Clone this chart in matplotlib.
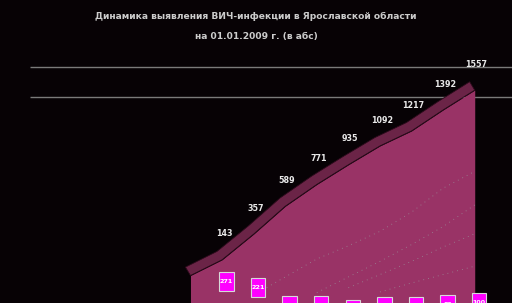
import matplotlib.pyplot as plt
import numpy as np

# data
years = [1999, 2000, 2001, 2002, 2003, 2004, 2005, 2006, 2007, 2008]
cumulative = [12, 143, 357, 589, 771, 935, 1092, 1217, 1392, 1557]
label_years = years[1:]
annual = [271, 221, 75, 70, 40, 60, 65, 80, 100]

# faint dotted contour series inside the area
line_a = [np.nan, np.nan, -150, 0, 150, 260, 380, 540, 740, 880]
line_b = [np.nan, np.nan, np.nan, np.nan, -130, 0, 130, 270, 420, 600]
line_c = [np.nan, np.nan, np.nan, np.nan, np.nan, -90, 20, 130, 250, 360]
line_d = [np.nan, np.nan, np.nan, np.nan, np.nan, np.nan, -125, -50, 20, 90]

title1 = "Динамика выявления ВИЧ-инфекции в Ярославской области"
title2 = "на 01.01.2009 г. (в абс)"

bg = '#070205'
face = '#993366'
ridge = '#6b2447'

fig = plt.figure(figsize=(5.12, 3.03), dpi=100)
fig.patch.set_facecolor(bg)
ax = fig.add_axes([0, 0, 1, 1])
ax.set_facecolor(bg)
ax.set_xlim(1992.97, 2009.18)
ax.set_ylim(-217, 2308)
ax.axis('off')

# two wall gridlines
ax.hlines([1500, 1750], 1993.92, 2009.18, color='#7a7a7a', lw=1, zorder=1)

x = np.array(years, dtype=float)
y = np.array(cumulative, dtype=float)

# front face of the area
ax.fill_between(x, y, -400, color=face, lw=0, zorder=2)

# top ridge of the 3d area
dx, dy = -0.16, 70
ax.fill(np.r_[x, (x + dx)[::-1]], np.r_[y, (y + dy)[::-1]],
        color=ridge, ec='#2a0a1a', lw=0.6, zorder=3)

for ln in [line_a, line_b, line_c, line_d]:
    ax.plot(x, ln, color='#9a8a96', lw=0.6, ls=(0, (1, 5)), zorder=3)

# cumulative labels
for yr, v in zip(label_years, cumulative[1:]):
    ax.text(yr + 0.06, v + 215, str(v), ha='center', va='center',
            fontsize=5.8, fontweight='bold', color='#e8e8e8', zorder=5)

# annual labels in tall magenta boxes
ann = np.array(annual, dtype=float)
bx = np.array(label_years, dtype=float) + 0.14
ax.bar(bx, 160, bottom=ann - 390, width=0.46, color='#ff00ff',
       edgecolor='#d8d8d8', lw=0.8, zorder=6)
for xx, v in zip(bx, annual):
    ax.text(xx, v - 310, str(v), ha='center', va='center',
            fontsize=4.6, fontweight='bold', color='white', zorder=7, clip_on=True)

fig.text(0.5, 1 - 16 / 303, title1, ha='center', va='center', fontsize=6.6,
         fontweight='bold', color='#cccccc')
fig.text(0.5, 1 - 36 / 303, title2, ha='center', va='center', fontsize=6.6,
         fontweight='bold', color='#cccccc')

fig.savefig('out.png', dpi=100, facecolor=bg)
